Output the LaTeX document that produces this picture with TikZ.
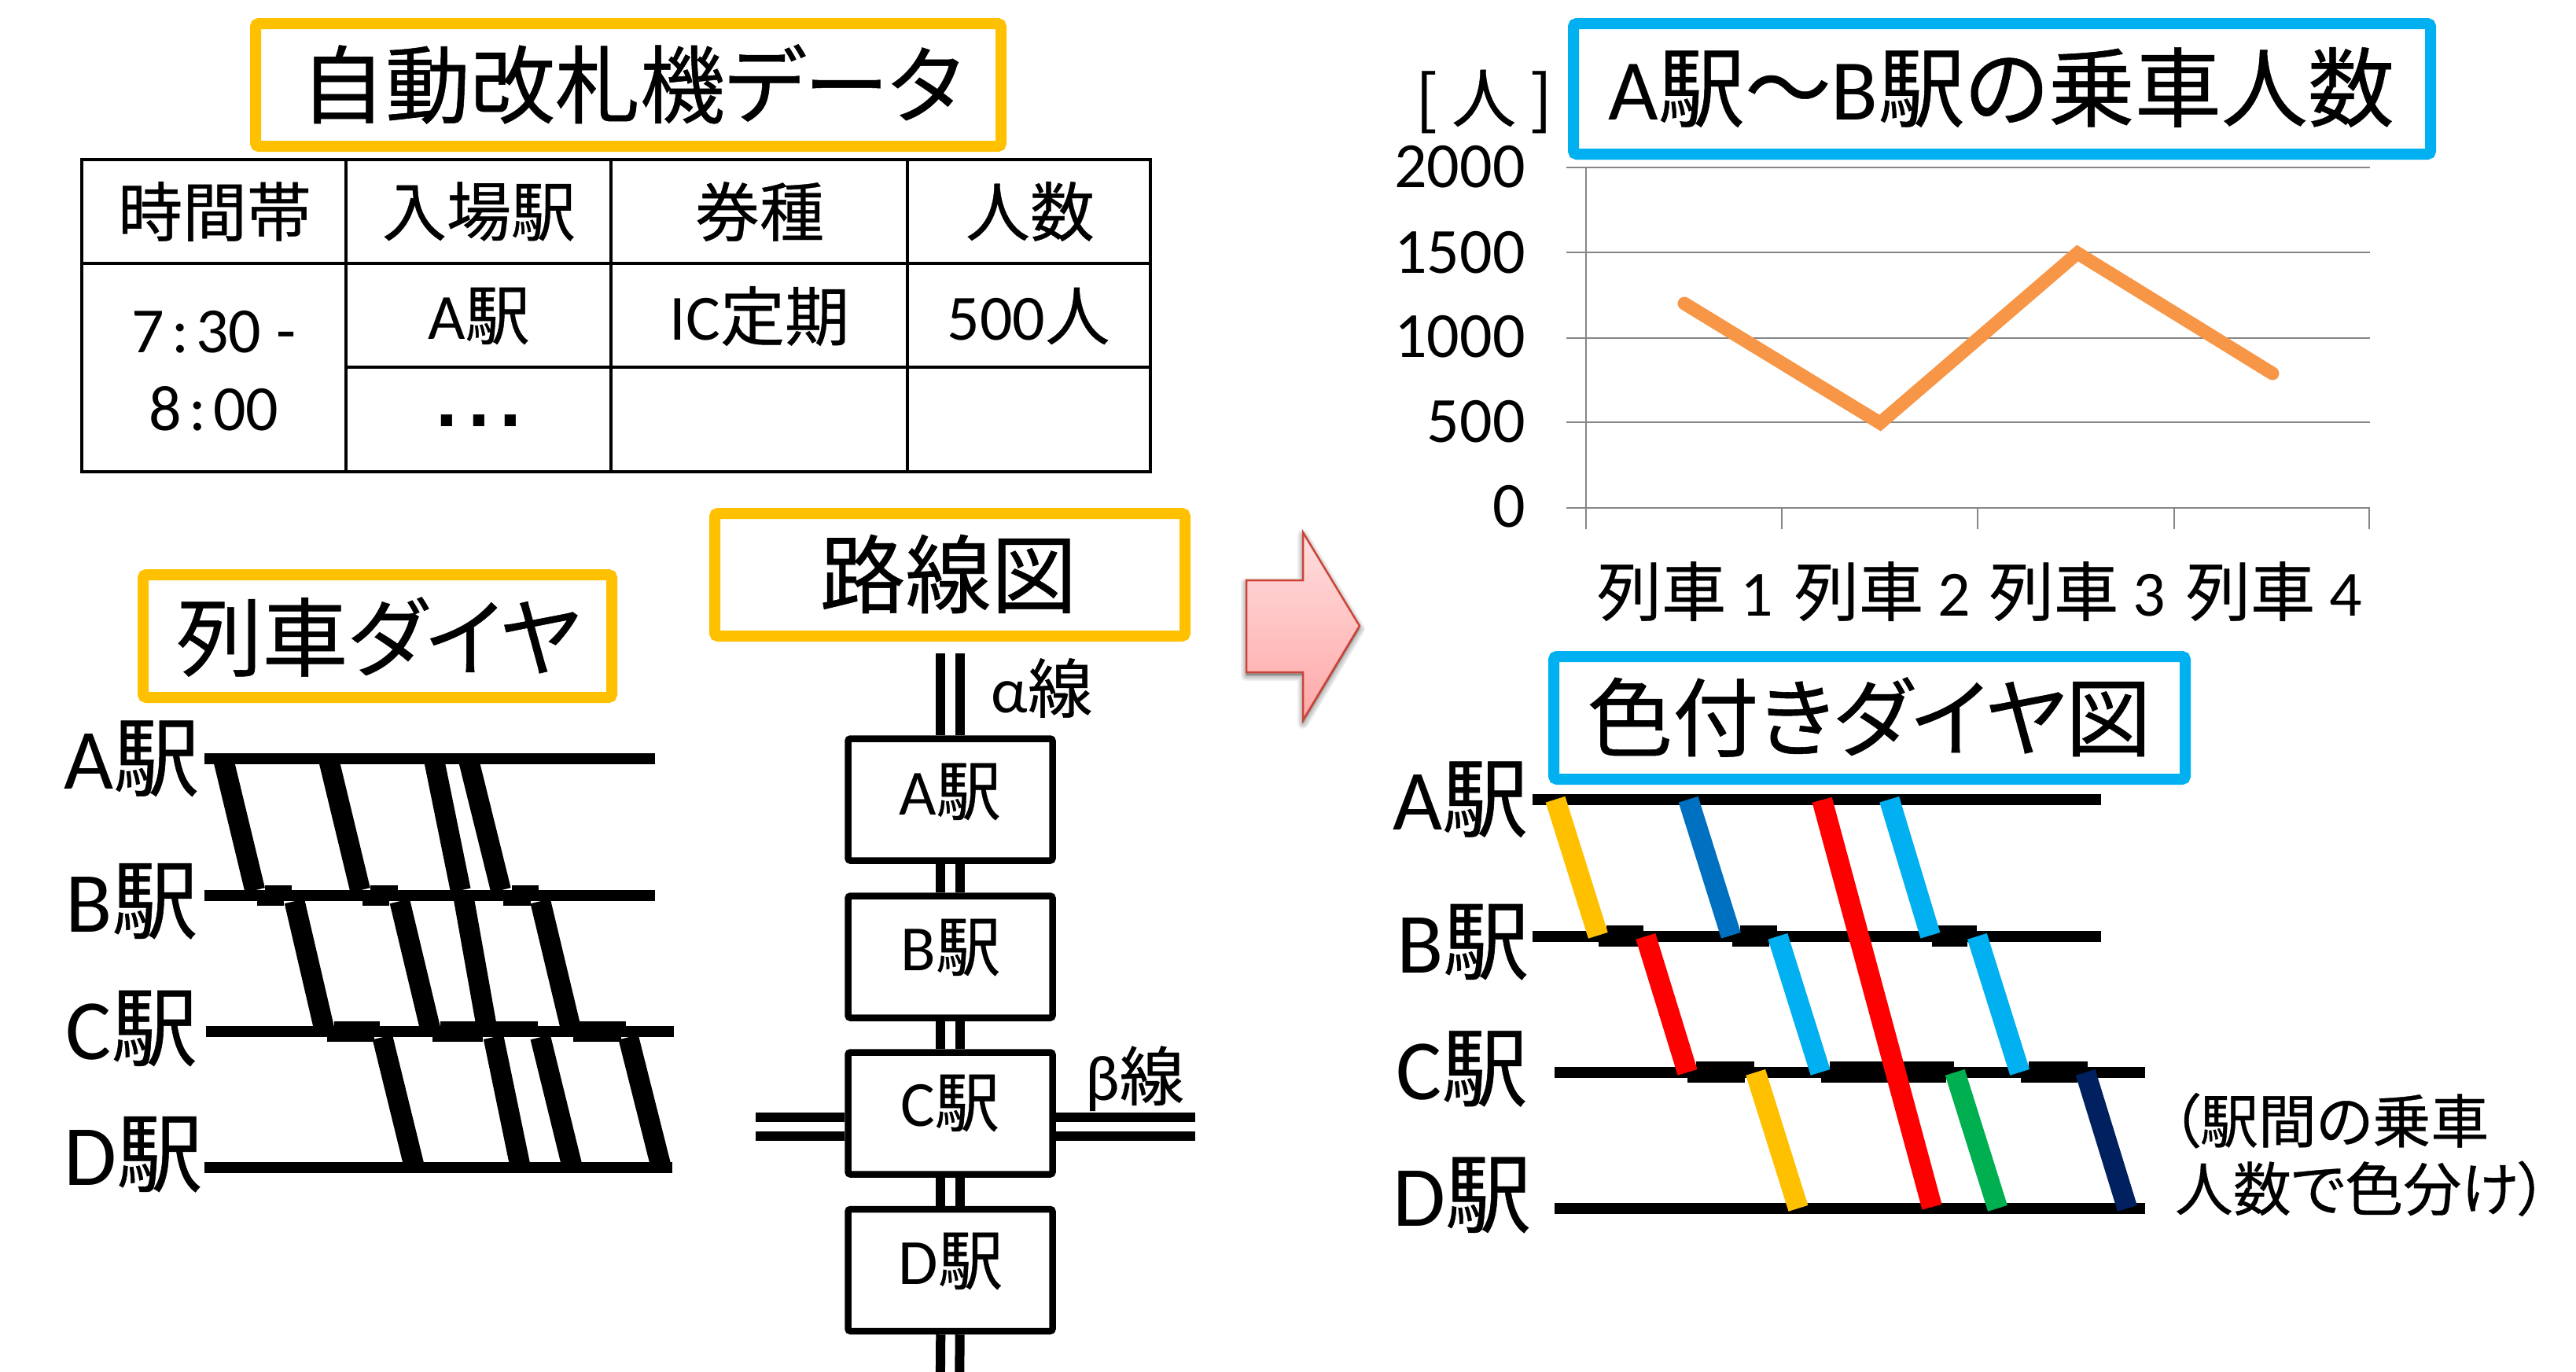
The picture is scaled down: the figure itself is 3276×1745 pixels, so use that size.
\documentclass[tikz,border=0pt]{standalone}
\usepackage{fontspec}
\setmainfont[RawFeature=+palt,FakeBold=0.5]{Noto Sans CJK JP}
\newfontfamily\latn{Carlito}
\newfontfamily\dotf{Liberation Sans}
\newcommand{\La}[1]{{\latn #1}}
\newcommand{\Fs}[1]{\fontsize{#1}{#1}\selectfont}
\definecolor{ttlY}{HTML}{FFC000}
\definecolor{ttlB}{HTML}{00B0F0}
\definecolor{gridc}{HTML}{868686}
\definecolor{orangel}{HTML}{F79646}
\definecolor{bluedk}{HTML}{0070C0}
\definecolor{greenl}{HTML}{00B050}
\definecolor{navyl}{HTML}{002060}
\definecolor{arrowb}{HTML}{CC4438}
\definecolor{arrowt}{HTML}{FFDEDE}
\definecolor{arrowl}{HTML}{FFA8A8}
\tikzset{
  ttlbox/.style={draw=#1,line width=7pt,rounded corners=2pt,fill=white,inner sep=0pt,align=center},
  stbox/.style={draw=black,line width=4.25pt,rounded corners=1.5pt,fill=white,inner sep=0pt,minimum width=130pt,minimum height=77.5pt},
  cell/.style={inner sep=0pt,font=\Fs{41}},
  big/.style={inner sep=0pt,font=\Fs{54.5}},
  note/.style={inner sep=0pt,font=\Fs{37}},
  tbl/.style={line width=2pt,line cap=rect},
  rail/.style={line width=6pt},
  railh/.style={line width=6pt},
  tr/.style={line width=13pt},
  grid line/.style={draw=gridc,line width=1.3pt},
  tick/.style={draw=gridc,line width=1pt},
  shad/.style={fill=black,draw=black,opacity=.06,line join=round}
}
\newcommand{\Gp}{\hspace{4.5pt}}
\begin{document}
\begin{tikzpicture}[x=0.5pt,y=-0.5pt]
\useasboundingbox (0,0) rectangle (3276,1745);
% title boxes
\node[ttlbox=ttlY,minimum width=474pt,minimum height=78pt] (t1) at (799,108) {};
\node[inner sep=0pt,font=\Fs{54}] (t1t) at (803,107) {自動改札機データ};
\node[ttlbox=ttlY,minimum width=299pt,minimum height=78pt] (t2) at (1208,731) {};
\node[big] (t2t) at (1206,730) {路線図};
\node[ttlbox=ttlY,minimum width=298pt,minimum height=78pt] (t3) at (480,809) {};
\node[big] (t3t) at (481,810) {列車ダイヤ};
\node[ttlbox=ttlB,minimum width=545pt,minimum height=83pt] (t4) at (2546,113) {};
\node[inner sep=0pt,font=\Fs{55}] (t4t) at (2545,111) {\La{A}駅～\La{B}駅の乗車人数};
\node[ttlbox=ttlB,minimum width=401.5pt,minimum height=78pt] (t5) at (2377.5,913) {};
\node[big] (t5t) at (2377,912) {色付きダイヤ図};
% table
\draw[tbl] (104,203) rectangle (1463,600);
\draw[tbl] (104,335) -- (1463,335);
\draw[tbl] (440,467) -- (1463,467);
\draw[tbl] (440,203) -- (440,600);
\draw[tbl] (777,203) -- (777,600);
\draw[tbl] (1154,203) -- (1154,600);
\node[cell] (h1) at (273,269) {時間帯};
\node[cell] (h2) at (609,269) {入場駅};
\node[cell] (h3) at (966,269) {券種};
\node[cell] (h4) at (1310,269) {人数};
\node[cell] (c1) at (272,422) {\La{7\Gp:\Gp30 -}};
\node[cell] (c2) at (272,520) {\La{8\Gp:\Gp00}};
\node[cell] (c3) at (609,402) {\La{A}駅};
\node[cell] (c4) at (966,402) {\La{IC}定期};
\node[cell] (c5) at (1308,402) {\La{500}人};
\node[inner sep=0pt,font=\Fs{50}] (c6) at (609,535) {\dotf\bfseries .\hspace{6.5pt}.\hspace{6.5pt}.};
% left diagram
\begin{scope}[shift={(0,870)},x=0.523pt,y=-0.279pt]
  \node[big] (la) at (160,170) {\La{A}駅};
  \node[big] (lb) at (160,495) {\La{B}駅};
  \node[big] (lc) at (160,785) {\La{C}駅};
  \node[big] (ld) at (162,1072) {\La{D}駅};
  \coordinate (a1) at (249,170); \coordinate (a2) at (796,170);
  \coordinate (b1) at (249,482); \coordinate (b2) at (796,482);
  \coordinate (c1p) at (250,792); \coordinate (c2p) at (819,792);
  \coordinate (d1) at (249,1102); \coordinate (d2) at (817,1102);
  \draw[line width=7pt] (a1)--(a2) (b1)--(b2) (c1p)--(c2p) (d1)--(d2);
  \draw[tr] (272,175)--(310,470) (400,175)--(438,470) (528,175)--(560,470) (570,175)--(609,470);
  \draw[tr] (358,495)--(394,785) (486,495)--(523,785) (564,490)--(592,785) (657,495)--(694,785);
  \draw[tr] (465,805)--(503,1095) (600,805)--(632,1095) (657,805)--(695,1095) (764,805)--(803,1095);
  \foreach \xa/\xb/\xc/\xd in {322/355/313/345,450/484/441/473,622/655/612/645}{
    \fill (\xa,458) rectangle (\xb,482);
    \fill (\xc,482) rectangle (\xd,506);}
  \foreach \xa/\xb/\xc/\xd in {406/462/398/455,535/654/526/587,705/761/697/755}{
    \fill (\xa,768) rectangle (\xb,792);
    \fill (\xc,792) rectangle (\xd,816);}
  % route map rails
  \coordinate (rtop) at (1155,-60);
  \coordinate (rbot) at (1155,1568);
  \coordinate (hl) at (919,1009);
  \coordinate (hr) at (1453,1009);
\end{scope}
\node[stbox] (sa) at (1208.5,1017) {};
\node[stbox] (sb) at (1208.5,1217) {};
\node[stbox] (sc) at (1208.5,1416) {};
\node[stbox] (sd) at (1208.5,1615.5) {};
\node[cell] (sat) at (1208,1007) {\La{A}駅};
\node[cell] (sbt) at (1209,1205) {\La{B}駅};
\node[cell] (sct) at (1208,1403) {\La{C}駅};
\node[cell] (sdt) at (1209,1604) {\La{D}駅};
\foreach \s in {-6.1pt,6.1pt}{
  \draw[rail] ([xshift=\s,yshift=52pt]sa.north) -- ([xshift=\s]sa.north);
  \draw[rail] ([xshift=\s]sa.south) -- ([xshift=\s]sb.north);
  \draw[rail] ([xshift=\s]sb.south) -- ([xshift=\s]sc.north);
  \draw[rail] ([xshift=\s]sc.south) -- ([xshift=\s]sd.north);
  \draw[rail] ([xshift=\s]sd.south) -- ([xshift=\s]rbot);
}
\foreach \s in {-6pt,6pt}{
  \draw[railh] ([yshift=\s]hl) -- ([yshift=\s]hl-|sc.west);
  \draw[railh] ([yshift=\s]hr) -- ([yshift=\s]hr-|sc.east);
}
\node[cell] (al) at (1325,875) {\La{α}線};
\node[cell] (be) at (1443,1372) {\La{β}線};
% chart
\foreach \y in {213,321,430,537,646}{ \draw[grid line] (1992,\y) -- (3014,\y); }
\draw[tick] (2017,213) -- (2017,673);
\foreach \x in {2266,2515,2765,3013}{ \draw[tick] (\x,646) -- (\x,673); }
\foreach \n/\y/\t in {y0/212/2000,y1/321/1500,y2/428/1000,y3/536/500,y4/644/0}{
  \node[inner sep=0pt,anchor=east,font=\Fs{41}] (\n) at (1940,\y) {\La{\t}};
}
\node[cell] (unit) at (1887,129) {[ 人 ]};
\draw[orangel,line width=8.5pt,line join=miter,line cap=round] (2142,386) -- (2391,538) -- (2642,322) -- (2890,475);
\node[cell] (x1) at (2143,752) {列車 \La{1}};
\node[cell] (x2) at (2394,752) {列車 \La{2}};
\node[cell] (x3) at (2642,752) {列車 \La{3}};
\node[cell] (x4) at (2892,752) {列車 \La{4}};
% arrow
\foreach \w in {1,2.5,4,5.5,7}{
  \path[shad,line width=\w pt] (1585,742) -- (1657,742) -- (1657,681) -- (1729,800) -- (1657,920) -- (1657,859) -- (1585,859) -- cycle;
}
\shade[top color=arrowt,bottom color=arrowl,draw=arrowb,line width=1.25pt]
  (1585,738) -- (1657,738) -- (1657,677) -- (1729,796) -- (1657,916) -- (1657,855) -- (1585,855) -- cycle;
% coloured diagram
\begin{scope}[shift={(1640,870)},x=0.5217pt,y=-0.279pt]
  \node[big] (ra) at (208,263) {\La{A}駅};
  \node[big] (rb) at (211,588) {\La{B}駅};
  \node[big] (rc) at (210,877) {\La{C}駅};
  \node[big] (rd) at (210,1165) {\La{D}駅};
  \coordinate (ra1) at (296,263); \coordinate (ra2) at (989,263);
  \coordinate (rb1) at (296,575); \coordinate (rb2) at (989,575);
  \coordinate (rc1) at (323,885); \coordinate (rc2) at (1043,885);
  \coordinate (rd1) at (323,1195); \coordinate (rd2) at (1043,1195);
  \draw[line width=7pt] (ra1)--(ra2) (rb1)--(rb2) (rc1)--(rc2) (rd1)--(rd2);
  \foreach \xa/\xb/\xc/\xd in {386/431/377/425,549/594/540/585,783/838/783/826}{
    \fill (\xa,551) rectangle (\xb,575);
    \fill (\xc,575) rectangle (\xd,599);}
  \foreach \xa/\xb/\xc/\xd in {495/566/485/555,658/810/648/800,901/973/891/960}{
    \fill (\xa,861) rectangle (\xb,885);
    \fill (\xc,885) rectangle (\xd,909);}
  \draw[tr,ttlY] (324,263)--(376,573);
  \draw[tr,bluedk] (486,263)--(538,573);
  \draw[tr,ttlB] (731,263)--(781,573);
  \draw[tr,red] (434,575)--(485,885);
  \draw[tr,ttlB] (595,575)--(647,885);
  \draw[tr,ttlB] (838,575)--(890,885);
  \draw[tr,ttlY] (568,885)--(620,1195);
  \draw[tr,greenl] (811,885)--(863,1195);
  \draw[tr,navyl] (970,885)--(1021,1195);
  \draw[tr,red] (649,264)--(783,1192);
  \node[note] (n1) at (1268,995) {（駅間の乗車};
  \node[note] (n2) at (1306,1150) {人数で色分け）};
\end{scope}
\end{tikzpicture}
\end{document}
